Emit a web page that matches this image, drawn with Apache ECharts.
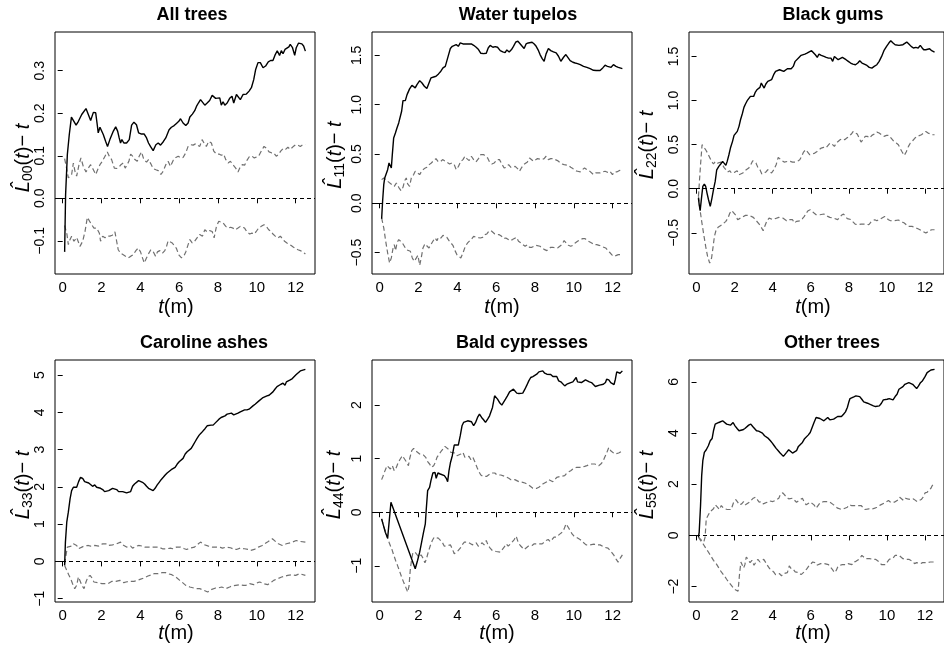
<!DOCTYPE html>
<html>
<head>
<meta charset="utf-8">
<script src="https://cdn.jsdelivr.net/npm/echarts@6/dist/echarts.min.js"></script>
<style>
  html, body { margin: 0; padding: 0; background: #ffffff; }
  #chart { width: 944px; height: 648px; }
</style>
</head>
<body>
<div id="chart"></div>
<script>
// ---- Data: L-function estimates (solid) with envelope bounds (dashed), as [t, value] ----
const panelTitles = ['All trees', 'Water tupelos', 'Black gums', 'Caroline ashes', 'Bald cypresses', 'Other trees'];
const panelSubscripts = ['00', '11', '22', '33', '44', '55'];
const xTicks = [0, 2, 4, 6, 8, 10, 12];

const yTicksAll = [-0.1, 0, 0.1, 0.2, 0.3];
const yTicksWater = [-0.5, 0, 0.5, 1, 1.5];
const yTicksBlack = [-0.5, 0, 0.5, 1, 1.5];
const yTicksAsh = [-1, 0, 1, 2, 3, 4, 5];
const yTicksCypress = [-1, 0, 1, 2];
const yTicksOther = [-2, 0, 2, 4, 6];

const yRangeAll = [-0.178, 0.391];
const yRangeWater = [-0.717, 1.737];
const yRangeBlack = [-0.967, 1.777];
const yRangeAsh = [-1.09, 5.408];
const yRangeCypress = [-1.676, 2.843];
const yRangeOther = [-2.6, 6.85];
const tRange = [-0.396, 12.996];

const allSolid = [[0.1,-0.126],[0.15,0.009],[0.24,0.103],[0.34,0.150],[0.45,0.191],[0.55,0.191],[0.69,0.172],[0.81,0.181],[0.98,0.197],[1.20,0.211],[1.32,0.197],[1.44,0.183],[1.58,0.202],[1.70,0.201],[1.78,0.173],[1.83,0.154],[1.92,0.167],[2.01,0.165],[2.09,0.150],[2.21,0.134],[2.31,0.122],[2.43,0.138],[2.61,0.158],[2.73,0.168],[2.83,0.158],[2.91,0.142],[2.98,0.130],[3.05,0.138],[3.15,0.130],[3.29,0.130],[3.43,0.138],[3.55,0.172],[3.67,0.179],[3.80,0.173],[3.91,0.154],[4.06,0.151],[4.20,0.151],[4.32,0.142],[4.42,0.130],[4.52,0.122],[4.66,0.112],[4.80,0.126],[4.92,0.130],[5.04,0.125],[5.18,0.133],[5.31,0.142],[5.48,0.161],[5.60,0.167],[5.74,0.171],[5.86,0.176],[5.98,0.181],[6.07,0.187],[6.20,0.177],[6.34,0.171],[6.46,0.177],[6.55,0.191],[6.68,0.198],[6.80,0.206],[6.89,0.216],[6.99,0.224],[7.10,0.232],[7.20,0.228],[7.32,0.219],[7.44,0.224],[7.57,0.230],[7.70,0.242],[7.80,0.242],[7.88,0.235],[7.97,0.238],[8.09,0.236],[8.17,0.219],[8.26,0.227],[8.35,0.219],[8.47,0.224],[8.60,0.235],[8.72,0.240],[8.81,0.224],[8.95,0.244],[9.03,0.240],[9.15,0.232],[9.29,0.244],[9.46,0.245],[9.60,0.252],[9.72,0.260],[9.84,0.279],[9.94,0.303],[10.06,0.319],[10.18,0.319],[10.32,0.307],[10.45,0.311],[10.59,0.321],[10.71,0.324],[10.83,0.324],[10.93,0.336],[11.05,0.347],[11.17,0.336],[11.26,0.347],[11.35,0.340],[11.45,0.350],[11.55,0.352],[11.65,0.356],[11.72,0.362],[11.83,0.355],[11.95,0.336],[12.03,0.354],[12.15,0.365],[12.24,0.369],[12.32,0.363],[12.41,0.358],[12.5,0.346]];
const allUpper = [[0.1,0.093],[0.2,0.071],[0.29,0.048],[0.38,0.044],[0.46,0.056],[0.55,0.083],[0.63,0.064],[0.72,0.052],[0.84,0.079],[0.94,0.095],[1.06,0.075],[1.20,0.062],[1.32,0.071],[1.44,0.079],[1.58,0.067],[1.70,0.056],[1.80,0.067],[1.92,0.079],[2.04,0.087],[2.18,0.099],[2.30,0.109],[2.40,0.099],[2.52,0.091],[2.66,0.071],[2.78,0.070],[2.90,0.073],[3.00,0.079],[3.12,0.083],[3.22,0.071],[3.32,0.071],[3.41,0.087],[3.50,0.104],[3.60,0.099],[3.72,0.091],[3.84,0.087],[3.94,0.099],[4.06,0.109],[4.18,0.091],[4.32,0.085],[4.42,0.091],[4.54,0.081],[4.66,0.070],[4.80,0.067],[4.92,0.065],[5.06,0.056],[5.18,0.064],[5.31,0.079],[5.43,0.087],[5.55,0.075],[5.69,0.089],[5.83,0.096],[5.95,0.099],[6.08,0.095],[6.20,0.096],[6.34,0.107],[6.46,0.122],[6.60,0.126],[6.72,0.125],[6.84,0.128],[6.94,0.128],[7.06,0.122],[7.18,0.138],[7.28,0.130],[7.40,0.122],[7.52,0.134],[7.66,0.130],[7.78,0.111],[7.92,0.104],[8.05,0.104],[8.17,0.101],[8.29,0.104],[8.40,0.091],[8.52,0.083],[8.64,0.087],[8.77,0.079],[8.91,0.071],[9.03,0.062],[9.12,0.071],[9.25,0.079],[9.37,0.078],[9.49,0.089],[9.63,0.099],[9.75,0.099],[9.87,0.095],[9.97,0.096],[10.09,0.099],[10.23,0.111],[10.37,0.122],[10.49,0.118],[10.63,0.109],[10.75,0.107],[10.87,0.107],[11.00,0.099],[11.12,0.103],[11.23,0.111],[11.35,0.117],[11.48,0.115],[11.60,0.120],[11.72,0.115],[11.86,0.121],[12.00,0.126],[12.12,0.125],[12.24,0.122],[12.37,0.126],[12.5,0.126]];
const allLower = [[0.1,-0.064],[0.22,-0.085],[0.29,-0.109],[0.38,-0.097],[0.46,-0.089],[0.58,-0.101],[0.72,-0.092],[0.89,-0.113],[1.03,-0.101],[1.15,-0.078],[1.27,-0.045],[1.37,-0.046],[1.49,-0.062],[1.61,-0.070],[1.75,-0.070],[1.89,-0.082],[1.95,-0.101],[2.06,-0.089],[2.18,-0.093],[2.30,-0.089],[2.43,-0.089],[2.55,-0.087],[2.69,-0.079],[2.78,-0.101],[2.86,-0.121],[2.98,-0.129],[3.12,-0.133],[3.26,-0.137],[3.38,-0.140],[3.51,-0.136],[3.63,-0.133],[3.77,-0.123],[3.89,-0.117],[4.01,-0.126],[4.11,-0.140],[4.20,-0.152],[4.32,-0.140],[4.44,-0.129],[4.54,-0.121],[4.66,-0.125],[4.78,-0.136],[4.88,-0.126],[5.00,-0.123],[5.14,-0.129],[5.26,-0.123],[5.35,-0.113],[5.43,-0.100],[5.52,-0.097],[5.64,-0.105],[5.74,-0.109],[5.86,-0.118],[5.98,-0.133],[6.12,-0.140],[6.24,-0.136],[6.34,-0.126],[6.46,-0.109],[6.55,-0.097],[6.67,-0.105],[6.80,-0.101],[6.92,-0.093],[7.06,-0.085],[7.20,-0.089],[7.32,-0.074],[7.45,-0.079],[7.57,-0.076],[7.70,-0.078],[7.80,-0.093],[7.92,-0.066],[8.04,-0.054],[8.14,-0.053],[8.26,-0.058],[8.40,-0.066],[8.52,-0.070],[8.65,-0.068],[8.77,-0.070],[8.89,-0.074],[9.03,-0.070],[9.15,-0.066],[9.25,-0.070],[9.37,-0.070],[9.49,-0.079],[9.63,-0.084],[9.75,-0.082],[9.87,-0.084],[9.97,-0.078],[10.09,-0.070],[10.23,-0.066],[10.37,-0.062],[10.49,-0.066],[10.61,-0.074],[10.73,-0.078],[10.83,-0.084],[10.95,-0.089],[11.09,-0.093],[11.21,-0.089],[11.31,-0.093],[11.43,-0.101],[11.55,-0.105],[11.65,-0.107],[11.77,-0.111],[11.89,-0.115],[12.00,-0.118],[12.12,-0.121],[12.24,-0.123],[12.37,-0.126],[12.5,-0.131]];

const waterSolid = [[0.1,-0.156],[0.15,0.02],[0.21,0.189],[0.26,0.257],[0.34,0.264],[0.41,0.341],[0.48,0.409],[0.55,0.392],[0.6,0.358],[0.65,0.494],[0.72,0.663],[0.81,0.713],[0.89,0.764],[0.98,0.815],[1.06,0.825],[1.13,0.933],[1.20,1.041],[1.32,1.041],[1.41,1.102],[1.54,1.16],[1.66,1.197],[1.75,1.21],[1.83,1.17],[1.92,1.204],[2.06,1.244],[2.18,1.22],[2.30,1.187],[2.43,1.163],[2.54,1.22],[2.64,1.271],[2.78,1.281],[2.90,1.288],[3.03,1.312],[3.15,1.339],[3.26,1.373],[3.38,1.389],[3.46,1.389],[3.55,1.508],[3.64,1.569],[3.74,1.592],[3.84,1.586],[3.94,1.609],[4.05,1.592],[4.15,1.626],[4.29,1.616],[4.41,1.616],[4.58,1.616],[4.72,1.616],[4.84,1.602],[4.97,1.582],[5.09,1.559],[5.21,1.521],[5.35,1.518],[5.49,1.521],[5.59,1.575],[5.69,1.602],[5.83,1.582],[5.95,1.589],[6.07,1.582],[6.21,1.548],[6.34,1.535],[6.46,1.528],[6.55,1.555],[6.67,1.535],[6.79,1.559],[6.89,1.592],[7.01,1.636],[7.12,1.643],[7.24,1.616],[7.34,1.592],[7.44,1.569],[7.54,1.616],[7.65,1.626],[7.75,1.616],[7.85,1.633],[7.96,1.616],[8.06,1.592],[8.18,1.548],[8.26,1.508],[8.37,1.467],[8.47,1.44],[8.57,1.515],[8.69,1.569],[8.81,1.548],[8.95,1.535],[9.09,1.525],[9.21,1.491],[9.33,1.44],[9.47,1.481],[9.59,1.508],[9.69,1.491],[9.81,1.447],[9.95,1.43],[10.07,1.423],[10.19,1.417],[10.33,1.406],[10.50,1.389],[10.67,1.379],[10.84,1.366],[11.01,1.349],[11.15,1.346],[11.35,1.346],[11.49,1.373],[11.61,1.40],[11.73,1.389],[11.83,1.406],[11.92,1.379],[12.04,1.406],[12.17,1.389],[12.29,1.379],[12.5,1.366]];
const waterUpper = [[0.1,0.24],[0.21,0.257],[0.31,0.24],[0.41,0.223],[0.51,0.206],[0.63,0.189],[0.75,0.172],[0.86,0.206],[0.98,0.162],[1.10,0.128],[1.20,0.162],[1.29,0.23],[1.37,0.257],[1.44,0.196],[1.54,0.172],[1.63,0.257],[1.75,0.291],[1.83,0.325],[1.92,0.318],[2.06,0.291],[2.18,0.331],[2.30,0.352],[2.43,0.365],[2.55,0.392],[2.66,0.409],[2.78,0.433],[2.90,0.453],[3.00,0.426],[3.12,0.419],[3.24,0.443],[3.34,0.426],[3.46,0.416],[3.60,0.399],[3.72,0.409],[3.84,0.392],[3.94,0.341],[4.06,0.375],[4.18,0.426],[4.29,0.443],[4.39,0.477],[4.49,0.453],[4.61,0.433],[4.72,0.477],[4.84,0.443],[4.96,0.419],[5.09,0.453],[5.21,0.494],[5.35,0.494],[5.45,0.487],[5.56,0.46],[5.66,0.419],[5.78,0.399],[5.90,0.409],[6.04,0.443],[6.17,0.443],[6.29,0.399],[6.41,0.358],[6.52,0.365],[6.64,0.392],[6.76,0.365],[6.86,0.385],[6.98,0.375],[7.10,0.352],[7.20,0.325],[7.32,0.365],[7.41,0.392],[7.51,0.409],[7.61,0.419],[7.72,0.46],[7.80,0.453],[7.92,0.426],[8.02,0.433],[8.13,0.453],[8.23,0.453],[8.35,0.443],[8.47,0.453],[8.57,0.477],[8.69,0.443],[8.81,0.453],[8.92,0.453],[9.04,0.443],[9.16,0.433],[9.26,0.426],[9.38,0.399],[9.50,0.392],[9.60,0.399],[9.72,0.385],[9.84,0.365],[9.95,0.352],[10.07,0.331],[10.19,0.325],[10.33,0.318],[10.44,0.341],[10.55,0.358],[10.67,0.341],[10.79,0.331],[10.89,0.318],[11.01,0.291],[11.13,0.308],[11.23,0.291],[11.35,0.308],[11.49,0.318],[11.61,0.325],[11.73,0.314],[11.86,0.325],[11.99,0.291],[12.09,0.318],[12.21,0.318],[12.33,0.331],[12.5,0.341]];
const waterLower = [[0.1,-0.149],[0.21,-0.25],[0.31,-0.385],[0.41,-0.504],[0.51,-0.605],[0.6,-0.554],[0.69,-0.453],[0.75,-0.419],[0.82,-0.48],[0.89,-0.402],[0.98,-0.368],[1.06,-0.385],[1.17,-0.402],[1.27,-0.436],[1.37,-0.47],[1.47,-0.453],[1.58,-0.487],[1.68,-0.554],[1.78,-0.588],[1.89,-0.554],[1.97,-0.527],[2.06,-0.629],[2.14,-0.554],[2.23,-0.453],[2.33,-0.412],[2.43,-0.426],[2.54,-0.453],[2.64,-0.419],[2.74,-0.385],[2.85,-0.352],[2.95,-0.379],[3.03,-0.345],[3.15,-0.352],[3.26,-0.325],[3.36,-0.311],[3.46,-0.345],[3.57,-0.379],[3.67,-0.385],[3.77,-0.426],[3.88,-0.48],[3.98,-0.521],[4.08,-0.538],[4.18,-0.554],[4.29,-0.504],[4.41,-0.436],[4.53,-0.402],[4.63,-0.385],[4.75,-0.358],[4.84,-0.335],[4.96,-0.345],[5.06,-0.358],[5.18,-0.352],[5.30,-0.345],[5.40,-0.318],[5.52,-0.311],[5.62,-0.284],[5.73,-0.277],[5.83,-0.291],[5.93,-0.311],[6.04,-0.318],[6.16,-0.318],[6.28,-0.335],[6.38,-0.358],[6.50,-0.352],[6.60,-0.368],[6.72,-0.379],[6.84,-0.368],[6.94,-0.379],[7.05,-0.345],[7.15,-0.385],[7.27,-0.402],[7.37,-0.419],[7.49,-0.436],[7.61,-0.419],[7.72,-0.446],[7.84,-0.446],[7.94,-0.453],[8.04,-0.426],[8.14,-0.419],[8.26,-0.436],[8.38,-0.453],[8.50,-0.47],[8.61,-0.48],[8.71,-0.47],[8.81,-0.446],[8.92,-0.446],[9.04,-0.453],[9.16,-0.453],[9.26,-0.446],[9.38,-0.419],[9.50,-0.379],[9.60,-0.385],[9.72,-0.426],[9.84,-0.436],[9.95,-0.426],[10.07,-0.402],[10.19,-0.385],[10.33,-0.368],[10.46,-0.358],[10.58,-0.358],[10.70,-0.379],[10.80,-0.385],[10.92,-0.402],[11.04,-0.419],[11.18,-0.419],[11.30,-0.426],[11.42,-0.436],[11.52,-0.446],[11.64,-0.453],[11.73,-0.47],[11.83,-0.494],[11.95,-0.521],[12.07,-0.538],[12.17,-0.548],[12.29,-0.521],[12.41,-0.521],[12.5,-0.514]];

const blackSolid = [[0.1,-0.106],[0.14,-0.181],[0.19,-0.249],[0.26,-0.106],[0.33,0.026],[0.41,0.053],[0.48,0.026],[0.55,-0.049],[0.63,-0.125],[0.72,-0.2],[0.81,-0.106],[0.89,-0.011],[0.98,0.083],[1.06,0.215],[1.17,0.253],[1.27,0.28],[1.37,0.31],[1.46,0.329],[1.54,0.265],[1.61,0.31],[1.70,0.385],[1.78,0.461],[1.89,0.537],[1.97,0.605],[2.06,0.62],[2.14,0.65],[2.23,0.707],[2.31,0.782],[2.40,0.847],[2.49,0.922],[2.57,0.96],[2.66,0.998],[2.74,1.02],[2.83,1.047],[2.91,1.054],[3.00,1.047],[3.09,1.096],[3.17,1.122],[3.26,1.13],[3.33,1.149],[3.40,1.198],[3.46,1.179],[3.55,1.141],[3.64,1.187],[3.74,1.217],[3.84,1.217],[3.94,1.236],[4.05,1.293],[4.15,1.33],[4.25,1.33],[4.36,1.349],[4.46,1.349],[4.58,1.33],[4.66,1.338],[4.77,1.36],[4.87,1.368],[4.97,1.36],[5.08,1.387],[5.18,1.444],[5.28,1.463],[5.38,1.489],[5.49,1.512],[5.59,1.512],[5.69,1.527],[5.80,1.538],[5.90,1.55],[6.04,1.565],[6.14,1.55],[6.24,1.519],[6.34,1.489],[6.43,1.527],[6.55,1.512],[6.69,1.5],[6.81,1.489],[6.93,1.481],[7.06,1.481],[7.15,1.444],[7.24,1.5],[7.34,1.5],[7.44,1.463],[7.54,1.481],[7.66,1.489],[7.75,1.481],[7.85,1.463],[7.97,1.444],[8.09,1.425],[8.21,1.413],[8.35,1.406],[8.47,1.425],[8.57,1.451],[8.69,1.425],[8.81,1.413],[8.95,1.398],[9.07,1.376],[9.21,1.368],[9.33,1.387],[9.47,1.406],[9.59,1.444],[9.72,1.5],[9.84,1.565],[9.98,1.614],[10.10,1.652],[10.20,1.678],[10.32,1.652],[10.43,1.633],[10.53,1.64],[10.63,1.625],[10.73,1.64],[10.84,1.633],[10.94,1.652],[11.04,1.663],[11.15,1.64],[11.27,1.614],[11.39,1.595],[11.52,1.602],[11.64,1.595],[11.75,1.625],[11.83,1.602],[11.93,1.576],[12.04,1.576],[12.14,1.565],[12.24,1.587],[12.35,1.565],[12.5,1.55]];
const blackUpper = [[0.1,-0.087],[0.14,0.045],[0.21,0.272],[0.29,0.499],[0.38,0.48],[0.48,0.442],[0.58,0.404],[0.69,0.355],[0.79,0.31],[0.89,0.28],[0.99,0.31],[1.10,0.291],[1.20,0.272],[1.29,0.302],[1.37,0.28],[1.44,0.242],[1.54,0.215],[1.63,0.189],[1.75,0.204],[1.83,0.178],[1.92,0.166],[2.02,0.189],[2.13,0.204],[2.23,0.159],[2.33,0.14],[2.43,0.178],[2.54,0.204],[2.64,0.215],[2.74,0.234],[2.85,0.272],[2.95,0.317],[3.03,0.329],[3.12,0.291],[3.22,0.242],[3.33,0.215],[3.43,0.166],[3.53,0.159],[3.64,0.189],[3.74,0.215],[3.84,0.204],[3.94,0.178],[4.06,0.215],[4.18,0.272],[4.29,0.355],[4.39,0.34],[4.49,0.317],[4.60,0.302],[4.70,0.291],[4.80,0.31],[4.92,0.31],[5.04,0.302],[5.18,0.302],[5.30,0.31],[5.42,0.329],[5.52,0.367],[5.62,0.416],[5.73,0.442],[5.83,0.431],[5.95,0.385],[6.07,0.393],[6.21,0.404],[6.33,0.423],[6.43,0.442],[6.55,0.461],[6.67,0.469],[6.79,0.461],[6.89,0.48],[7.01,0.518],[7.12,0.506],[7.24,0.48],[7.34,0.518],[7.44,0.537],[7.54,0.556],[7.66,0.567],[7.78,0.556],[7.89,0.574],[8.01,0.593],[8.13,0.62],[8.23,0.65],[8.33,0.658],[8.44,0.62],[8.54,0.574],[8.64,0.529],[8.74,0.556],[8.86,0.593],[8.98,0.593],[9.09,0.574],[9.21,0.605],[9.33,0.62],[9.47,0.642],[9.59,0.631],[9.71,0.612],[9.84,0.593],[9.98,0.605],[10.10,0.605],[10.22,0.574],[10.36,0.537],[10.49,0.518],[10.60,0.499],[10.70,0.454],[10.80,0.416],[10.91,0.378],[11.01,0.416],[11.13,0.48],[11.23,0.518],[11.35,0.544],[11.47,0.574],[11.59,0.593],[11.69,0.582],[11.81,0.612],[11.93,0.631],[12.04,0.65],[12.16,0.631],[12.26,0.642],[12.38,0.612],[12.5,0.612]];
const blackLower = [[0.1,-0.087],[0.17,-0.219],[0.27,-0.37],[0.38,-0.522],[0.48,-0.654],[0.58,-0.767],[0.69,-0.843],[0.79,-0.786],[0.86,-0.673],[0.94,-0.54],[1.03,-0.465],[1.13,-0.438],[1.23,-0.427],[1.34,-0.408],[1.44,-0.401],[1.54,-0.37],[1.65,-0.333],[1.75,-0.276],[1.85,-0.249],[1.95,-0.257],[2.06,-0.302],[2.16,-0.351],[2.26,-0.34],[2.37,-0.325],[2.47,-0.314],[2.57,-0.302],[2.67,-0.314],[2.78,-0.302],[2.88,-0.314],[2.98,-0.325],[3.09,-0.351],[3.19,-0.37],[3.29,-0.401],[3.40,-0.438],[3.50,-0.476],[3.60,-0.416],[3.70,-0.363],[3.81,-0.333],[3.91,-0.351],[4.01,-0.351],[4.12,-0.34],[4.22,-0.333],[4.32,-0.325],[4.42,-0.317],[4.53,-0.333],[4.63,-0.351],[4.73,-0.363],[4.84,-0.351],[4.94,-0.34],[5.04,-0.351],[5.14,-0.389],[5.25,-0.37],[5.35,-0.351],[5.45,-0.363],[5.56,-0.34],[5.66,-0.314],[5.76,-0.276],[5.86,-0.249],[5.97,-0.238],[6.07,-0.257],[6.17,-0.276],[6.28,-0.295],[6.38,-0.287],[6.48,-0.295],[6.58,-0.302],[6.69,-0.287],[6.79,-0.302],[6.89,-0.314],[7.00,-0.325],[7.10,-0.34],[7.20,-0.333],[7.30,-0.34],[7.41,-0.351],[7.51,-0.333],[7.61,-0.302],[7.72,-0.287],[7.82,-0.314],[7.92,-0.34],[8.02,-0.333],[8.13,-0.351],[8.23,-0.378],[8.33,-0.401],[8.44,-0.408],[8.54,-0.408],[8.64,-0.401],[8.74,-0.389],[8.85,-0.401],[8.95,-0.416],[9.05,-0.408],[9.16,-0.378],[9.26,-0.363],[9.36,-0.351],[9.47,-0.363],[9.57,-0.351],[9.67,-0.34],[9.77,-0.333],[9.88,-0.314],[9.98,-0.325],[10.08,-0.351],[10.19,-0.363],[10.29,-0.351],[10.39,-0.363],[10.49,-0.363],[10.60,-0.355],[10.70,-0.363],[10.80,-0.378],[10.91,-0.389],[11.01,-0.408],[11.11,-0.427],[11.21,-0.438],[11.32,-0.427],[11.42,-0.438],[11.52,-0.446],[11.63,-0.454],[11.73,-0.465],[11.83,-0.476],[11.93,-0.491],[12.04,-0.503],[12.14,-0.491],[12.24,-0.476],[12.35,-0.465],[12.5,-0.465]];

const ashSolid = [[0.1,-0.107],[0.14,0.518],[0.21,1.053],[0.29,1.321],[0.38,1.678],[0.46,1.901],[0.55,1.99],[0.63,2.017],[0.72,1.99],[0.82,2.142],[0.92,2.258],[1.03,2.231],[1.13,2.142],[1.23,2.106],[1.34,2.106],[1.44,2.079],[1.54,2.017],[1.65,2.053],[1.75,1.99],[1.85,1.946],[1.95,1.963],[2.06,1.928],[2.16,1.874],[2.26,1.856],[2.37,1.901],[2.47,1.928],[2.57,1.963],[2.67,1.963],[2.78,1.928],[2.88,1.874],[2.98,1.901],[3.09,1.874],[3.19,1.856],[3.29,1.838],[3.39,1.812],[3.50,1.874],[3.60,2.017],[3.70,2.079],[3.80,2.124],[3.91,2.169],[4.01,2.16],[4.11,2.124],[4.22,2.079],[4.32,2.017],[4.42,1.963],[4.52,1.928],[4.66,1.901],[4.76,1.963],[4.87,2.053],[4.97,2.124],[5.07,2.195],[5.18,2.258],[5.28,2.32],[5.38,2.374],[5.48,2.392],[5.59,2.463],[5.69,2.463],[5.79,2.526],[5.90,2.615],[6.00,2.677],[6.10,2.704],[6.20,2.767],[6.31,2.883],[6.41,2.945],[6.51,2.972],[6.62,3.034],[6.72,3.124],[6.82,3.213],[6.92,3.302],[7.03,3.391],[7.13,3.445],[7.23,3.463],[7.34,3.57],[7.44,3.641],[7.54,3.659],[7.64,3.659],[7.75,3.659],[7.85,3.713],[7.95,3.748],[8.05,3.82],[8.16,3.864],[8.26,3.855],[8.36,3.909],[8.47,3.954],[8.57,3.98],[8.69,3.98],[8.81,3.936],[8.91,3.945],[9.03,3.98],[9.15,4.016],[9.25,4.043],[9.37,4.07],[9.49,4.07],[9.60,4.088],[9.70,4.088],[9.80,4.177],[9.91,4.221],[10.01,4.266],[10.11,4.311],[10.21,4.355],[10.32,4.4],[10.42,4.427],[10.52,4.444],[10.63,4.462],[10.73,4.489],[10.83,4.552],[10.93,4.623],[11.04,4.694],[11.14,4.73],[11.24,4.757],[11.35,4.784],[11.45,4.73],[11.52,4.819],[11.62,4.846],[11.72,4.873],[11.83,4.909],[11.93,4.962],[12.03,5.016],[12.13,5.069],[12.24,5.114],[12.34,5.141],[12.5,5.158]];
const ashUpper = [[0.1,-0.062],[0.17,0.161],[0.24,0.384],[0.34,0.384],[0.45,0.411],[0.55,0.473],[0.63,0.518],[0.72,0.428],[0.81,0.339],[0.89,0.295],[0.99,0.384],[1.10,0.411],[1.20,0.411],[1.32,0.428],[1.44,0.411],[1.54,0.411],[1.65,0.428],[1.75,0.384],[1.85,0.411],[1.95,0.428],[2.06,0.473],[2.16,0.518],[2.26,0.473],[2.37,0.428],[2.47,0.446],[2.57,0.446],[2.67,0.428],[2.78,0.473],[2.88,0.5],[2.98,0.518],[3.09,0.446],[3.19,0.411],[3.29,0.384],[3.39,0.411],[3.50,0.411],[3.60,0.357],[3.70,0.357],[3.80,0.411],[3.91,0.428],[4.01,0.384],[4.11,0.411],[4.22,0.384],[4.32,0.357],[4.42,0.384],[4.52,0.411],[4.63,0.384],[4.73,0.357],[4.83,0.384],[4.94,0.384],[5.04,0.384],[5.14,0.339],[5.24,0.295],[5.35,0.339],[5.45,0.357],[5.55,0.357],[5.66,0.339],[5.76,0.357],[5.86,0.384],[5.96,0.411],[6.07,0.384],[6.17,0.357],[6.27,0.339],[6.38,0.321],[6.48,0.339],[6.58,0.357],[6.68,0.357],[6.79,0.384],[6.89,0.428],[6.99,0.473],[7.10,0.518],[7.20,0.5],[7.30,0.446],[7.40,0.428],[7.51,0.411],[7.61,0.384],[7.71,0.384],[7.81,0.384],[7.92,0.384],[8.02,0.384],[8.12,0.375],[8.23,0.357],[8.33,0.384],[8.43,0.384],[8.53,0.384],[8.64,0.366],[8.74,0.339],[8.84,0.321],[8.95,0.321],[9.05,0.339],[9.15,0.357],[9.25,0.357],[9.36,0.339],[9.46,0.339],[9.56,0.321],[9.67,0.295],[9.77,0.295],[9.87,0.321],[9.97,0.357],[10.08,0.384],[10.18,0.411],[10.28,0.428],[10.39,0.473],[10.49,0.518],[10.59,0.535],[10.69,0.562],[10.80,0.607],[10.90,0.562],[11.00,0.518],[11.11,0.473],[11.21,0.446],[11.31,0.428],[11.41,0.446],[11.52,0.473],[11.62,0.473],[11.72,0.5],[11.83,0.518],[11.93,0.535],[12.03,0.562],[12.13,0.562],[12.24,0.535],[12.34,0.518],[12.5,0.518]];
const ashLower = [[0.1,-0.107],[0.21,-0.241],[0.31,-0.357],[0.41,-0.464],[0.51,-0.598],[0.62,-0.732],[0.72,-0.643],[0.81,-0.419],[0.89,-0.464],[0.99,-0.643],[1.10,-0.732],[1.20,-0.553],[1.30,-0.419],[1.41,-0.375],[1.51,-0.446],[1.61,-0.553],[1.71,-0.598],[1.82,-0.571],[1.92,-0.553],[2.02,-0.598],[2.13,-0.598],[2.23,-0.625],[2.33,-0.598],[2.43,-0.553],[2.54,-0.535],[2.64,-0.553],[2.74,-0.535],[2.84,-0.509],[2.95,-0.509],[3.05,-0.553],[3.15,-0.571],[3.26,-0.553],[3.36,-0.553],[3.46,-0.535],[3.56,-0.509],[3.67,-0.535],[3.77,-0.518],[3.87,-0.509],[3.98,-0.482],[4.08,-0.482],[4.18,-0.446],[4.28,-0.419],[4.39,-0.393],[4.49,-0.375],[4.59,-0.357],[4.70,-0.33],[4.80,-0.33],[4.90,-0.33],[5.00,-0.33],[5.11,-0.303],[5.21,-0.286],[5.31,-0.303],[5.42,-0.33],[5.52,-0.357],[5.62,-0.357],[5.72,-0.375],[5.83,-0.419],[5.93,-0.464],[6.03,-0.509],[6.14,-0.553],[6.24,-0.598],[6.34,-0.643],[6.44,-0.66],[6.55,-0.687],[6.65,-0.714],[6.75,-0.714],[6.86,-0.732],[6.96,-0.75],[7.06,-0.732],[7.16,-0.75],[7.27,-0.776],[7.37,-0.803],[7.47,-0.821],[7.57,-0.785],[7.68,-0.75],[7.78,-0.732],[7.88,-0.714],[7.99,-0.714],[8.09,-0.687],[8.19,-0.687],[8.29,-0.714],[8.40,-0.732],[8.50,-0.714],[8.60,-0.687],[8.71,-0.66],[8.81,-0.643],[8.91,-0.643],[9.01,-0.643],[9.12,-0.625],[9.22,-0.625],[9.32,-0.643],[9.43,-0.643],[9.53,-0.625],[9.63,-0.598],[9.73,-0.598],[9.84,-0.625],[9.94,-0.598],[10.04,-0.571],[10.15,-0.553],[10.25,-0.571],[10.35,-0.598],[10.45,-0.625],[10.56,-0.625],[10.66,-0.598],[10.76,-0.553],[10.87,-0.509],[10.97,-0.482],[11.07,-0.464],[11.17,-0.446],[11.28,-0.419],[11.38,-0.393],[11.48,-0.393],[11.59,-0.375],[11.69,-0.375],[11.79,-0.357],[11.89,-0.375],[12.00,-0.375],[12.10,-0.357],[12.20,-0.33],[12.30,-0.357],[12.5,-0.375]];

const cypressSolid = [[0.1,-0.124],[0.17,-0.217],[0.29,-0.373],[0.41,-0.484],[0.5,-0.509],[0.58,0.186],[1.83,-1.056],[1.95,-0.901],[2.06,-0.745],[2.16,-0.559],[2.26,-0.373],[2.35,-0.217],[2.40,0.062],[2.47,0.404],[2.57,0.466],[2.64,0.59],[2.74,0.733],[2.85,0.745],[2.91,0.634],[3.00,0.733],[3.12,0.714],[3.22,0.683],[3.33,0.683],[3.43,0.634],[3.50,0.571],[3.57,0.776],[3.64,0.919],[3.74,1.056],[3.84,1.255],[3.94,1.255],[4.05,1.255],[4.15,1.429],[4.24,1.615],[4.32,1.677],[4.42,1.708],[4.53,1.708],[4.63,1.72],[4.73,1.689],[4.84,1.615],[4.94,1.677],[5.04,1.77],[5.14,1.832],[5.25,1.77],[5.35,1.727],[5.45,1.677],[5.56,1.739],[5.66,1.801],[5.73,1.77],[5.81,1.957],[5.92,2.174],[5.95,2.205],[6.07,2.112],[6.17,2.05],[6.29,2.0],[6.38,2.037],[6.48,2.112],[6.58,2.174],[6.69,2.248],[6.79,2.224],[6.89,2.298],[6.98,2.329],[7.06,2.224],[7.17,2.217],[7.27,2.217],[7.37,2.224],[7.48,2.298],[7.58,2.373],[7.68,2.453],[7.78,2.516],[7.89,2.534],[7.99,2.547],[8.09,2.578],[8.20,2.621],[8.30,2.658],[8.40,2.64],[8.50,2.596],[8.61,2.578],[8.71,2.559],[8.81,2.571],[8.92,2.534],[9.02,2.497],[9.12,2.534],[9.22,2.453],[9.33,2.435],[9.43,2.41],[9.53,2.36],[9.64,2.391],[9.74,2.422],[9.84,2.422],[9.95,2.435],[10.05,2.472],[10.12,2.516],[10.19,2.435],[10.29,2.41],[10.39,2.422],[10.49,2.447],[10.60,2.472],[10.70,2.453],[10.80,2.435],[10.91,2.422],[11.01,2.391],[11.11,2.348],[11.21,2.36],[11.32,2.373],[11.42,2.373],[11.52,2.391],[11.63,2.422],[11.69,2.484],[11.80,2.472],[11.90,2.422],[12.00,2.385],[12.07,2.385],[12.14,2.484],[12.21,2.621],[12.31,2.609],[12.38,2.596],[12.5,2.64]];
const cypressUpper = [[0.1,0.609],[0.17,0.671],[0.24,0.745],[0.31,0.807],[0.38,0.87],[0.46,0.901],[0.55,0.807],[0.65,0.87],[0.75,0.776],[0.86,0.839],[0.96,0.932],[1.06,0.994],[1.17,1.056],[1.27,1.025],[1.37,0.944],[1.48,0.87],[1.54,0.994],[1.65,1.149],[1.75,1.193],[1.85,1.149],[1.95,1.118],[2.06,1.087],[2.16,1.106],[2.26,1.068],[2.37,1.025],[2.47,0.944],[2.57,0.901],[2.67,0.839],[2.78,0.87],[2.88,0.944],[2.95,1.025],[3.03,1.068],[3.15,1.13],[3.26,1.18],[3.36,1.23],[3.46,1.211],[3.57,1.168],[3.67,1.118],[3.77,1.149],[3.88,1.106],[3.98,1.056],[4.08,1.025],[4.18,1.087],[4.29,1.118],[4.39,1.025],[4.49,0.994],[4.60,1.043],[4.70,0.981],[4.80,1.025],[4.90,0.944],[5.01,0.839],[5.11,0.758],[5.21,0.696],[5.32,0.671],[5.42,0.683],[5.52,0.671],[5.62,0.696],[5.73,0.733],[5.83,0.758],[5.93,0.733],[6.04,0.696],[6.14,0.671],[6.24,0.696],[6.34,0.683],[6.45,0.671],[6.55,0.652],[6.65,0.634],[6.76,0.609],[6.86,0.59],[6.96,0.609],[7.06,0.59],[7.17,0.571],[7.27,0.559],[7.37,0.559],[7.48,0.547],[7.58,0.528],[7.68,0.509],[7.78,0.484],[7.89,0.447],[7.99,0.435],[8.09,0.447],[8.20,0.466],[8.30,0.497],[8.40,0.528],[8.50,0.559],[8.61,0.571],[8.71,0.609],[8.81,0.59],[8.92,0.571],[9.02,0.609],[9.12,0.652],[9.22,0.683],[9.33,0.671],[9.43,0.634],[9.53,0.683],[9.64,0.733],[9.74,0.758],[9.84,0.776],[9.95,0.807],[10.05,0.82],[10.15,0.839],[10.25,0.82],[10.36,0.839],[10.46,0.839],[10.56,0.857],[10.67,0.87],[10.77,0.882],[10.87,0.901],[10.97,0.882],[11.08,0.901],[11.18,0.87],[11.28,0.87],[11.39,0.901],[11.49,0.944],[11.59,1.025],[11.69,1.106],[11.80,1.211],[11.90,1.149],[12.00,1.118],[12.11,1.087],[12.21,1.087],[12.31,1.106],[12.5,1.149]];
const cypressLower = [[0.1,-0.124],[0.21,-0.261],[0.31,-0.373],[0.41,-0.484],[0.51,-0.59],[0.62,-0.683],[0.72,-0.795],[0.82,-0.901],[0.93,-1.006],[1.03,-1.106],[1.13,-1.211],[1.23,-1.304],[1.34,-1.398],[1.44,-1.491],[1.51,-1.379],[1.58,-1.056],[1.65,-0.87],[1.71,-0.758],[1.82,-0.745],[1.92,-0.776],[2.02,-0.839],[2.13,-0.795],[2.23,-0.857],[2.33,-0.944],[2.40,-0.882],[2.50,-0.745],[2.61,-0.621],[2.71,-0.528],[2.81,-0.466],[2.91,-0.435],[3.02,-0.484],[3.12,-0.509],[3.22,-0.559],[3.33,-0.634],[3.43,-0.652],[3.53,-0.621],[3.64,-0.609],[3.74,-0.683],[3.84,-0.776],[3.94,-0.745],[4.05,-0.714],[4.15,-0.671],[4.25,-0.609],[4.36,-0.559],[4.46,-0.528],[4.56,-0.559],[4.66,-0.528],[4.77,-0.609],[4.87,-0.59],[4.97,-0.571],[5.08,-0.634],[5.18,-0.609],[5.28,-0.571],[5.38,-0.609],[5.49,-0.528],[5.59,-0.621],[5.69,-0.671],[5.80,-0.714],[5.90,-0.714],[6.00,-0.733],[6.10,-0.714],[6.21,-0.745],[6.31,-0.714],[6.41,-0.652],[6.52,-0.59],[6.62,-0.634],[6.72,-0.671],[6.82,-0.559],[6.93,-0.509],[7.03,-0.447],[7.13,-0.559],[7.24,-0.621],[7.34,-0.652],[7.44,-0.696],[7.54,-0.671],[7.65,-0.634],[7.75,-0.652],[7.85,-0.621],[7.96,-0.59],[8.06,-0.559],[8.16,-0.59],[8.26,-0.609],[8.37,-0.59],[8.47,-0.559],[8.57,-0.528],[8.68,-0.509],[8.78,-0.547],[8.88,-0.509],[8.98,-0.466],[9.09,-0.466],[9.19,-0.435],[9.29,-0.404],[9.40,-0.373],[9.50,-0.311],[9.60,-0.217],[9.71,-0.28],[9.81,-0.342],[9.91,-0.404],[10.01,-0.447],[10.12,-0.466],[10.22,-0.484],[10.32,-0.509],[10.43,-0.547],[10.53,-0.571],[10.63,-0.609],[10.73,-0.596],[10.84,-0.609],[10.94,-0.596],[11.04,-0.596],[11.15,-0.609],[11.25,-0.59],[11.35,-0.609],[11.45,-0.634],[11.56,-0.652],[11.66,-0.634],[11.76,-0.671],[11.87,-0.714],[11.97,-0.758],[12.07,-0.807],[12.17,-0.87],[12.28,-0.932],[12.35,-0.882],[12.5,-0.795]];

const otherSolid = [[0.1,-0.065],[0.14,0.13],[0.21,1.167],[0.27,2.335],[0.33,2.918],[0.41,3.243],[0.51,3.346],[0.62,3.502],[0.72,3.696],[0.82,3.787],[0.89,4.086],[0.98,4.345],[1.06,4.384],[1.17,4.41],[1.27,4.436],[1.37,4.475],[1.47,4.436],[1.58,4.345],[1.68,4.306],[1.78,4.306],[1.85,4.254],[1.92,4.41],[2.02,4.28],[2.13,4.176],[2.23,4.086],[2.33,4.021],[2.43,4.125],[2.54,4.176],[2.64,4.215],[2.74,4.306],[2.85,4.345],[2.95,4.254],[3.05,4.176],[3.15,4.086],[3.26,4.073],[3.36,4.047],[3.46,3.995],[3.57,3.891],[3.67,3.839],[3.77,3.787],[3.88,3.696],[3.98,3.606],[4.08,3.502],[4.18,3.398],[4.29,3.307],[4.39,3.217],[4.49,3.139],[4.56,3.087],[4.63,3.139],[4.73,3.243],[4.84,3.346],[4.94,3.307],[5.04,3.217],[5.14,3.217],[5.25,3.307],[5.35,3.476],[5.45,3.528],[5.56,3.632],[5.66,3.761],[5.76,3.826],[5.86,3.917],[5.97,4.021],[6.07,4.215],[6.17,4.41],[6.28,4.604],[6.38,4.604],[6.48,4.565],[6.58,4.514],[6.69,4.475],[6.79,4.436],[6.89,4.604],[7.00,4.514],[7.10,4.514],[7.20,4.54],[7.30,4.565],[7.41,4.643],[7.51,4.669],[7.61,4.643],[7.72,4.734],[7.82,4.825],[7.92,4.994],[7.99,5.188],[8.06,5.344],[8.16,5.383],[8.26,5.409],[8.37,5.447],[8.47,5.473],[8.57,5.422],[8.68,5.318],[8.78,5.214],[8.88,5.162],[8.98,5.162],[9.09,5.123],[9.19,5.084],[9.29,5.058],[9.40,5.032],[9.50,4.994],[9.60,5.058],[9.71,5.162],[9.81,5.292],[9.91,5.318],[10.01,5.318],[10.12,5.344],[10.22,5.292],[10.32,5.292],[10.43,5.422],[10.53,5.512],[10.63,5.707],[10.73,5.772],[10.84,5.811],[10.94,5.901],[11.04,5.966],[11.15,5.966],[11.25,5.94],[11.35,5.901],[11.45,5.837],[11.56,5.733],[11.66,5.837],[11.76,5.966],[11.87,6.044],[11.93,6.07],[12.00,6.2],[12.11,6.355],[12.21,6.42],[12.31,6.459],[12.5,6.485]];
const otherUpper = [[0.1,-0.065],[0.17,-0.13],[0.27,-0.195],[0.38,-0.259],[0.45,-0.065],[0.51,0.649],[0.58,0.713],[0.65,0.843],[0.72,0.934],[0.79,1.012],[0.89,1.038],[0.99,1.193],[1.10,1.102],[1.20,1.012],[1.30,1.167],[1.41,1.064],[1.51,1.141],[1.61,1.012],[1.71,0.973],[1.82,1.012],[1.89,1.167],[1.95,1.297],[2.06,1.401],[2.16,1.297],[2.26,1.193],[2.37,1.232],[2.47,1.323],[2.57,1.193],[2.67,1.271],[2.78,1.297],[2.88,1.362],[2.98,1.453],[3.09,1.492],[3.19,1.401],[3.29,1.297],[3.40,1.323],[3.50,1.232],[3.60,1.297],[3.70,1.297],[3.81,1.349],[3.91,1.401],[4.01,1.323],[4.12,1.362],[4.22,1.427],[4.32,1.453],[4.42,1.621],[4.53,1.66],[4.63,1.582],[4.73,1.492],[4.84,1.427],[4.94,1.362],[5.04,1.453],[5.14,1.427],[5.25,1.297],[5.35,1.323],[5.45,1.401],[5.56,1.453],[5.66,1.297],[5.76,1.193],[5.86,1.232],[5.97,1.297],[6.07,1.232],[6.17,1.193],[6.28,1.064],[6.38,1.167],[6.48,1.271],[6.58,1.323],[6.69,1.323],[6.79,1.297],[6.89,1.323],[7.00,1.297],[7.10,1.271],[7.20,1.193],[7.30,1.167],[7.41,1.064],[7.51,1.012],[7.61,1.012],[7.72,1.038],[7.82,1.038],[7.92,1.102],[8.02,1.193],[8.13,1.167],[8.23,1.141],[8.33,1.167],[8.44,1.167],[8.54,1.193],[8.64,1.167],[8.74,1.102],[8.85,1.012],[8.95,1.012],[9.05,1.038],[9.16,1.012],[9.26,1.038],[9.36,1.064],[9.47,1.102],[9.57,1.167],[9.67,1.193],[9.77,1.193],[9.88,1.271],[9.98,1.323],[10.08,1.362],[10.19,1.297],[10.29,1.323],[10.39,1.297],[10.49,1.323],[10.60,1.401],[10.67,1.492],[10.77,1.427],[10.87,1.362],[10.97,1.453],[11.08,1.427],[11.18,1.401],[11.28,1.401],[11.39,1.427],[11.49,1.362],[11.59,1.323],[11.69,1.362],[11.80,1.401],[11.90,1.492],[12.00,1.66],[12.11,1.686],[12.21,1.751],[12.31,1.842],[12.38,1.946],[12.5,2.049]];
const otherLower = [[0.1,-0.065],[0.21,-0.195],[0.34,-0.324],[0.48,-0.493],[0.62,-0.649],[0.75,-0.804],[0.89,-0.973],[1.03,-1.102],[1.17,-1.271],[1.30,-1.427],[1.44,-1.556],[1.58,-1.712],[1.71,-1.842],[1.85,-1.971],[1.99,-2.101],[2.09,-2.179],[2.18,-2.179],[2.26,-1.492],[2.33,-1.038],[2.40,-1.102],[2.47,-1.271],[2.54,-1.141],[2.61,-0.843],[2.71,-0.934],[2.81,-1.064],[2.91,-0.973],[3.02,-1.167],[3.12,-1.038],[3.22,-0.934],[3.33,-1.038],[3.43,-0.973],[3.53,-0.934],[3.64,-1.064],[3.74,-1.193],[3.84,-1.297],[3.94,-1.362],[4.05,-1.427],[4.15,-1.53],[4.25,-1.453],[4.36,-1.492],[4.46,-1.582],[4.56,-1.492],[4.66,-1.556],[4.77,-1.453],[4.87,-1.193],[4.97,-1.297],[5.08,-1.323],[5.18,-1.427],[5.28,-1.492],[5.38,-1.453],[5.49,-1.53],[5.59,-1.492],[5.69,-1.401],[5.80,-1.297],[5.90,-1.193],[6.00,-1.141],[6.10,-1.038],[6.21,-1.064],[6.31,-1.167],[6.41,-1.102],[6.52,-1.102],[6.62,-1.167],[6.72,-1.102],[6.82,-1.064],[6.93,-1.141],[7.03,-1.232],[7.13,-1.323],[7.24,-1.453],[7.34,-1.362],[7.44,-1.193],[7.54,-1.141],[7.65,-1.141],[7.75,-1.167],[7.85,-1.141],[7.96,-1.102],[8.06,-1.141],[8.16,-1.141],[8.26,-1.038],[8.37,-1.012],[8.47,-0.973],[8.57,-0.908],[8.68,-0.778],[8.78,-0.843],[8.88,-0.908],[8.98,-0.908],[9.09,-0.908],[9.19,-0.934],[9.29,-0.934],[9.40,-0.934],[9.50,-0.973],[9.60,-1.038],[9.71,-1.141],[9.81,-1.141],[9.91,-1.141],[10.01,-1.064],[10.12,-0.934],[10.22,-0.882],[10.32,-0.882],[10.43,-0.778],[10.53,-0.752],[10.63,-0.778],[10.73,-0.843],[10.84,-0.908],[10.94,-0.882],[11.04,-0.934],[11.15,-0.934],[11.25,-0.973],[11.35,-1.012],[11.45,-1.102],[11.56,-1.064],[11.66,-1.141],[11.76,-1.102],[11.87,-1.064],[11.97,-1.102],[12.07,-1.064],[12.17,-1.064],[12.28,-1.038],[12.38,-1.038],[12.5,-1.038]];

// ---- Layout of the 2 x 3 panel grid ----
const FONT = '"Liberation Sans", Arial, Helvetica, sans-serif';
const panels = [
  { solid: allSolid, upper: allUpper, lower: allLower, ticks: yTicksAll, range: yRangeAll, digits: 1 },
  { solid: waterSolid, upper: waterUpper, lower: waterLower, ticks: yTicksWater, range: yRangeWater, digits: 1 },
  { solid: blackSolid, upper: blackUpper, lower: blackLower, ticks: yTicksBlack, range: yRangeBlack, digits: 1 },
  { solid: ashSolid, upper: ashUpper, lower: ashLower, ticks: yTicksAsh, range: yRangeAsh, digits: 0 },
  { solid: cypressSolid, upper: cypressUpper, lower: cypressLower, ticks: yTicksCypress, range: yRangeCypress, digits: 0 },
  { solid: otherSolid, upper: otherUpper, lower: otherLower, ticks: yTicksOther, range: yRangeOther, digits: 0 }
];
const boxLeft = [55, 372, 689];
const boxTop = [32, 360];
const boxW = 260, boxH = 242;
const titlePos = [[192, 15], [518, 15], [833, 15], [204, 343], [522, 343], [832, 343]];
const xNamePos = [[176, 307], [502, 307], [813, 307], [176, 633], [497, 633], [813, 633]];
const yNamePos = [[23, 158], [335, 155], [647, 145], [23, 485], [334, 485], [647, 485]];

const grids = [], xAxes = [], yAxes = [], series = [], graphics = [];

const fmt = (v, d) => v.toFixed(d).replace('-', '\u2212');

panels.forEach((p, i) => {
  const col = i % 3, row = Math.floor(i / 3);
  grids.push({
    left: boxLeft[col], top: boxTop[row], width: boxW, height: boxH,
    show: true, borderColor: '#000', borderWidth: 1, backgroundColor: 'transparent'
  });
  xAxes.push({
    type: 'value', gridIndex: i, min: tRange[0], max: tRange[1],
    axisLine: { show: false },
    splitLine: { show: false },
    axisTick: { show: true, customValues: xTicks, length: 5, lineStyle: { color: '#000', width: 1 } },
    axisLabel: { customValues: xTicks, margin: 6, color: '#000', fontSize: 15, fontFamily: FONT,
      formatter: v => String(v) }
  });
  yAxes.push({
    type: 'value', gridIndex: i, min: p.range[0], max: p.range[1],
    axisLine: { show: false },
    splitLine: { show: false },
    axisTick: { show: true, customValues: p.ticks, length: 5, lineStyle: { color: '#000', width: 1 } },
    axisLabel: { customValues: p.ticks, rotate: 90, margin: 8, color: '#000', fontSize: 14, fontFamily: FONT,
      formatter: v => fmt(v, p.digits) }
  });
  const base = { type: 'line', xAxisIndex: i, yAxisIndex: i, symbol: 'none', showSymbol: false,
    animation: false, silent: true };
  series.push(Object.assign({}, base, {
    data: p.upper, lineStyle: { color: '#707070', width: 1.2, type: [5, 3] }
  }));
  series.push(Object.assign({}, base, {
    data: p.lower, lineStyle: { color: '#707070', width: 1.2, type: [5, 3] }
  }));
  series.push(Object.assign({}, base, {
    data: p.solid, lineStyle: { color: '#000', width: 1.4 },
    markLine: {
      silent: true, symbol: ['none', 'none'], label: { show: false }, animation: false,
      lineStyle: { color: '#000', width: 1.2, type: [4, 3] },
      data: [{ yAxis: 0 }]
    }
  }));

  graphics.push({
    type: 'text', x: titlePos[i][0], y: titlePos[i][1],
    style: { text: panelTitles[i], fill: '#000', font: 'bold 18px ' + FONT,
      align: 'center', verticalAlign: 'middle', textAlign: 'center', textVerticalAlign: 'middle' }
  });
  graphics.push({
    type: 'text', x: xNamePos[i][0], y: xNamePos[i][1],
    style: {
      text: '{i|t}{n|(m)}', fill: '#000',
      align: 'center', verticalAlign: 'middle', textAlign: 'center', textVerticalAlign: 'middle',
      rich: {
        i: { fontFamily: FONT, fontStyle: 'italic', fontSize: 20, fill: '#000' },
        n: { fontFamily: FONT, fontSize: 20, fill: '#000' }
      }
    }
  });
  graphics.push({
    type: 'text', x: yNamePos[i][0], y: yNamePos[i][1], rotation: Math.PI / 2,
    style: {
      text: '{L|L\u0302}{s|' + panelSubscripts[i] + '}{n|(}{i|t}{n|)\u2212 }{i|t}', fill: '#000',
      align: 'center', verticalAlign: 'middle', textAlign: 'center', textVerticalAlign: 'middle',
      rich: {
        L: { fontFamily: FONT, fontStyle: 'italic', fontSize: 20, fill: '#000' },
        s: { fontFamily: FONT, fontSize: 14, fill: '#000', padding: [11, 0, 0, 0] },
        i: { fontFamily: FONT, fontStyle: 'italic', fontSize: 20, fill: '#000' },
        n: { fontFamily: FONT, fontSize: 20, fill: '#000' }
      }
    }
  });
});

const chart = echarts.init(document.getElementById('chart'), null, { renderer: 'canvas' });
chart.setOption({
  backgroundColor: '#ffffff',
  animation: false,
  grid: grids,
  xAxis: xAxes,
  yAxis: yAxes,
  series: series,
  graphic: graphics
});
</script>
</body>
</html>
